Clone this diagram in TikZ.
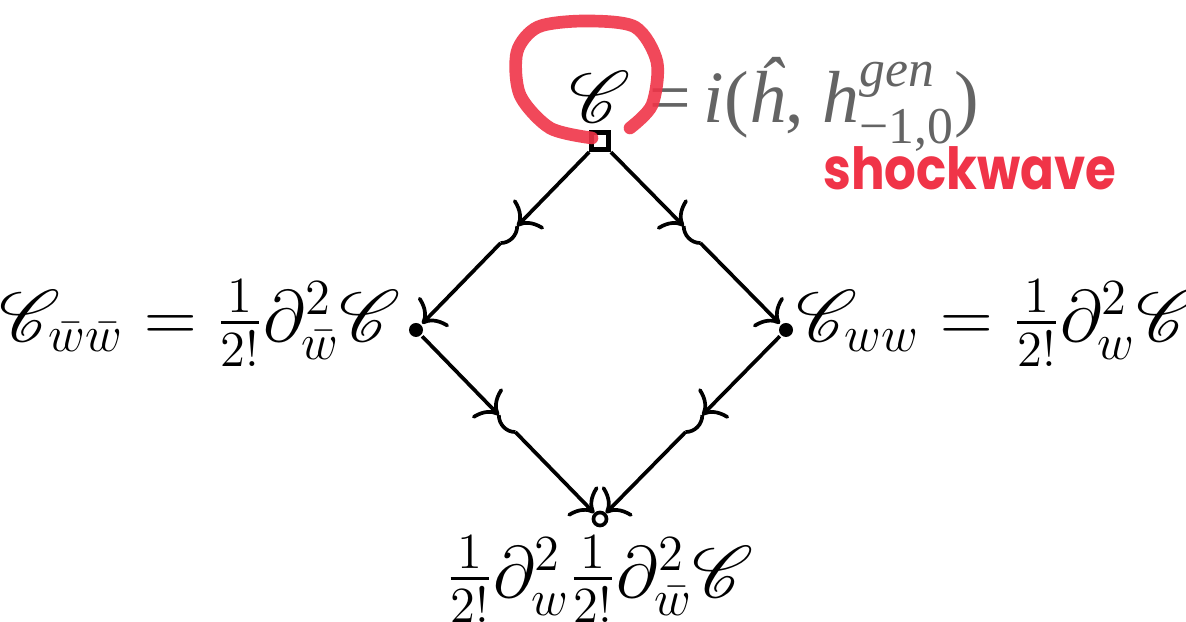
\documentclass[tikz,border=0pt]{standalone}
\usepackage{amsmath,amssymb}
\usepackage{mathrsfs}
\usepackage{fontspec}
\newfontfamily\handfont[FakeStretch=0.86]{Poppins}
\newfontfamily\timesfont{Liberation Serif}
\usetikzlibrary{arrows.meta,positioning,calc}
\definecolor{markred}{RGB}{240,52,72}
\definecolor{eqgray}{RGB}{100,100,100}

\begin{document}
\begin{tikzpicture}[>={Computer Modern Rightarrow[length=1.8mm,width=4.2mm]}, line width=1.05pt,
    vsq/.style={draw,fill=white,line width=1.5pt,minimum size=0.17cm,inner sep=0pt},
    vdot/.style={circle,fill,minimum size=0.14cm,inner sep=0pt},
    vring/.style={circle,draw,fill=white,minimum size=0.13cm,inner sep=0pt},
    lbl/.style={font=\fontsize{19.2}{24}\selectfont,inner sep=1pt}]
  \useasboundingbox (0,0) rectangle (11.86,-6.22);
  % vertices of the diamond
  \node[vsq] (vt) at (6.00,-1.41) {};
  \node[vdot] (vl) at (4.16,-3.30) {};
  \node[vdot] (vr) at (7.86,-3.30) {};
  \node[vring] (vb) at (6.00,-5.19) {};
  % labels
  \node[lbl,left=0.01cm of vl,yshift=2pt] (ll) {$\mathscr{C}_{\bar w\bar w} = \frac{1}{2!}\partial_{\bar w}^2\mathscr{C}$};
  \node[lbl,right=-0.04cm of vr,yshift=2pt] (lr) {$\mathscr{C}_{ww} = \frac{1}{2!}\partial_{w}^2\mathscr{C}$};
  \node[lbl,below=0.03cm of vb] (lb) {$\frac{1}{2!}\partial_{w}^2\frac{1}{2!}\partial_{\bar w}^2\mathscr{C}$};
  \node[lbl,above=0.02cm of vt] (lt) {$\mathscr{C}$};
  \node[font=\timesfont\fontsize{21}{24}\selectfont,text=eqgray,inner sep=0pt,anchor=base west] (lg) at ($(lt.base east)+(0.12,0)$)
    {=\,\textit{i}(\textit{ĥ}, \textit{h}$^{\textit{gen}}_{\text{−1,0}}$)};
  % mid points with the little kink
  \coordinate (m1) at ($(vt)!0.45!(vl)$);  \coordinate (k1) at ($(vt)!0.54!(vl)$);
  \coordinate (m2) at ($(vt)!0.45!(vr)$);  \coordinate (k2) at ($(vt)!0.54!(vr)$);
  \coordinate (m3) at ($(vl)!0.45!(vb)$);  \coordinate (k3) at ($(vl)!0.54!(vb)$);
  \coordinate (m4) at ($(vr)!0.45!(vb)$);  \coordinate (k4) at ($(vr)!0.54!(vb)$);
  \draw[->] (vt) -- (m1); \draw (m1) to[out=-90,in=0] (k1); \draw[->] (k1) -- (vl);
  \draw[->] (vt) -- (m2); \draw (m2) to[out=-90,in=180] (k2); \draw[->] (k2) -- (vr);
  \draw[->] (vl) -- (m3); \draw (m3) to[out=-90,in=180] (k3); \draw[->] (k3) -- (vb);
  \draw[->] (vr) -- (m4); \draw (m4) to[out=-90,in=0] (k4); \draw[->] (k4) -- (vb);
  % hand-drawn marks
  \draw[markred,line width=3.6pt,line cap=round,opacity=0.9] plot[smooth] coordinates
    {(5.92,-1.38) (5.50,-1.28) (5.20,-0.95) (5.17,-0.52) (5.38,-0.27) (5.85,-0.21) (6.35,-0.27) (6.57,-0.62) (6.52,-1.05) (6.30,-1.28)};
  \node[text=markred,font=\handfont\bfseries\fontsize{16.5}{18}\selectfont] (sw) at (9.70,-1.68) {shockwave};
\end{tikzpicture}
\end{document}
